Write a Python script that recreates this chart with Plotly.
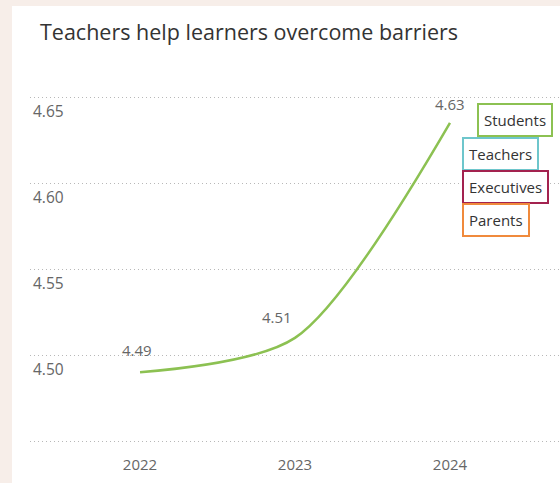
import plotly.graph_objects as go

years = ['2022', '2023', '2024']
students = [4.49, 4.51, 4.635]
students_labels = ['4.49', '4.51', '4.63']

legend_names = ['Students', 'Teachers', 'Executives', 'Parents']
legend_colors = ['#8cc152', '#6ec6cc', '#a3224f', '#f08a3c']

y_ticks = [4.45, 4.50, 4.55, 4.60, 4.65]

# plot area in pixels: left 30, right 560, top 80, bottom 450
L, R, T, B = 30, 560, 80, 450


def px_x(x):
    return (x - L) / (R - L)


def px_y(y):
    return (B - y) / (B - T)


fig = go.Figure()
fig.add_trace(go.Scatter(
    x=years,
    y=students,
    mode='lines',
    line=dict(color='#8cc152', width=2.5, shape='spline', smoothing=0.8),
    showlegend=False,
    hoverinfo='skip',
))

# value labels above the line (category index used for x)
label_shift = [(-3, 22), (-18, 21), (0, 19)]
for i, (val, lab, (sx, sy)) in enumerate(zip(students, students_labels, label_shift)):
    fig.add_annotation(x=i, y=val, xref='x', yref='y', text=lab,
                       showarrow=False, xshift=sx, yshift=sy,
                       font=dict(size=15, color='#666666'))

# white card behind the chart
fig.add_shape(type='rect', xref='paper', yref='paper', layer='below',
              x0=px_x(12), x1=px_x(600), y0=px_y(520), y1=px_y(6),
              fillcolor='white', line=dict(width=0))

# legend as boxed labels
legend_pos = [(477, 120), (462, 154), (462, 187), (462, 220)]
for name, color, (lx, ly) in zip(legend_names, legend_colors, legend_pos):
    fig.add_annotation(
        x=px_x(lx), y=px_y(ly), xref='paper', yref='paper',
        xanchor='left', yanchor='middle', showarrow=False,
        text=name, font=dict(size=15, color='#333333'),
        bordercolor=color, borderwidth=2, borderpad=5, bgcolor='white',
    )

fig.update_xaxes(
    type='category',
    range=[-0.71, 2.71],
    showgrid=False, zeroline=False, showline=False,
    tickfont=dict(size=15, color='#666666'),
    ticklabelstandoff=4,
    automargin=False,
)
fig.update_yaxes(
    range=[4.4448, 4.6599],
    tickvals=y_ticks,
    ticktext=['', '4.50', '4.55', '4.60', '4.65'],
    showgrid=True, gridcolor='#b8b8b8', griddash='1px,3px', gridwidth=1,
    zeroline=False, showline=False,
    ticklabelposition='inside',
    ticklabelshift=15,
    tickfont=dict(size=15.5, color='#666666'),
    automargin=False,
)
fig.update_layout(
    width=560, height=483,
    margin=dict(l=L, r=0, t=T, b=483 - B),
    paper_bgcolor='#f7eee9',
    plot_bgcolor='white',
    font=dict(family='Open Sans, sans-serif'),
    title=dict(text='Teachers help learners overcome barriers',
               x=40 / 560, xanchor='left', y=1 - 32 / 483, yanchor='middle',
               font=dict(size=21.5, color='#333333')),
)

fig.write_html('out.html', config={'displayModeBar': False},
               post_script="document.body.style.margin='0px';"
               "document.body.style.background='#f7eee9';")
